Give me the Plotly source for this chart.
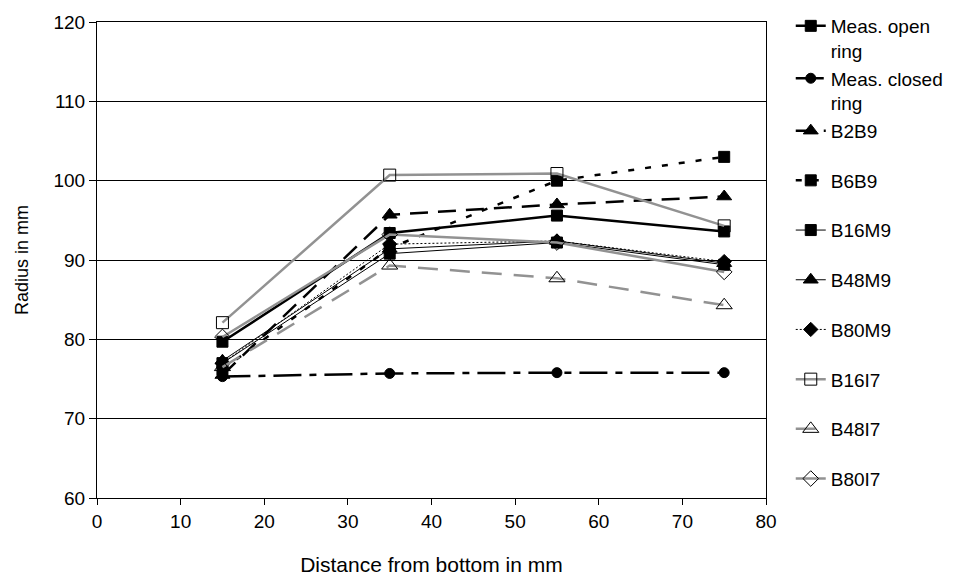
import plotly.graph_objects as go

distance = [15, 35, 55, 75]

meas_open = [79.7, 93.4, 95.6, 93.6]
meas_closed = [75.3, 75.7, 75.8, 75.8]
b2b9 = [75.5, 95.7, 97.0, 98.0]
b6b9 = [76.2, 91.5, 100.0, 103.0]
b16m9 = [77.0, 90.8, 92.2, 89.4]
b48m9 = [77.3, 91.4, 92.4, 89.6]
b80m9 = [77.0, 92.0, 92.4, 89.8]
b16i7 = [82.1, 100.7, 100.9, 94.3]
b48i7 = [76.5, 89.3, 87.7, 84.3]
b80i7 = [80.3, 93.2, 92.2, 88.5]

names = ["Meas. open<br>ring", "Meas. closed<br>ring", "B2B9", "B6B9", "B16M9",
         "B48M9", "B80M9", "B16I7", "B48I7", "B80I7"]

GRAY = "#929292"
FONT = "Liberation Sans, Arial, sans-serif"

styles = [
    dict(data=meas_open, color="black", width=2.5, dash="solid", symbol="square", msize=11, group="m"),
    dict(data=meas_closed, color="black", width=2.5, dash="28px,8px,7px,8px", symbol="circle", msize=10, group="m"),
    dict(data=b2b9, color="black", width=2.5, dash="18px,10px", symbol="triangle-up", msize=13, group="m"),
    dict(data=b6b9, color="black", width=2.5, dash="6px,11px", symbol="square", msize=11, group="g4"),
    dict(data=b16m9, color="black", width=1, dash="solid", symbol="square", msize=11, group="g5"),
    dict(data=b48m9, color="black", width=1, dash="solid", symbol="triangle-up", msize=13, group="g6"),
    dict(data=b80m9, color="black", width=1, dash="2px,2px", symbol="diamond", msize=11, group="g7"),
    dict(data=b16i7, color=GRAY, width=2.5, dash="solid", symbol="square-open", msize=12, group="g8"),
    dict(data=b48i7, color=GRAY, width=2.5, dash="20px,12px", symbol="triangle-up-open", msize=14, group="g9"),
    dict(data=b80i7, color=GRAY, width=2.5, dash="solid", symbol="diamond-open", msize=12, group="g10"),
]

fig = go.Figure()
for name, s in zip(names, styles):
    fig.add_trace(go.Scatter(
        x=distance, y=s["data"], name=name, mode="lines+markers",
        legendgroup=s["group"],
        line=dict(color=s["color"], width=s["width"], dash=s["dash"]),
        marker=dict(symbol=s["symbol"], size=s["msize"], color="black",
                    line=dict(color="black", width=1)),
    ))

fig.update_layout(
    width=969, height=584,
    margin=dict(l=97, r=203, t=18, b=84),
    plot_bgcolor="white", paper_bgcolor="white",
    font=dict(family=FONT, size=19, color="black"),
    showlegend=True,
    legend=dict(x=1.037, y=0.0, xanchor="left", yanchor="bottom",
                tracegroupgap=22, valign="top", maxheight=560,
                font=dict(family=FONT, size=19, color="black"),
                bgcolor="rgba(0,0,0,0)"),
    xaxis=dict(range=[0, 80], dtick=10, tick0=0, showgrid=False,
               showline=True, linecolor="black", linewidth=1, mirror=True,
               ticks="outside", ticklen=6, tickcolor="black",
               zeroline=False,
               tickfont=dict(size=19),
               title=dict(text="Distance from bottom in mm", font=dict(size=21), standoff=26)),
    yaxis=dict(range=[60, 120], dtick=10, tick0=60, showgrid=True,
               gridcolor="black", gridwidth=1,
               showline=True, linecolor="black", linewidth=1, mirror=True,
               ticks="outside", ticklen=7, tickcolor="black",
               zeroline=False,
               tickfont=dict(size=19),
               title=dict(text="Radius in mm", font=dict(size=18), standoff=20)),
)

fig.write_html("out.html")
